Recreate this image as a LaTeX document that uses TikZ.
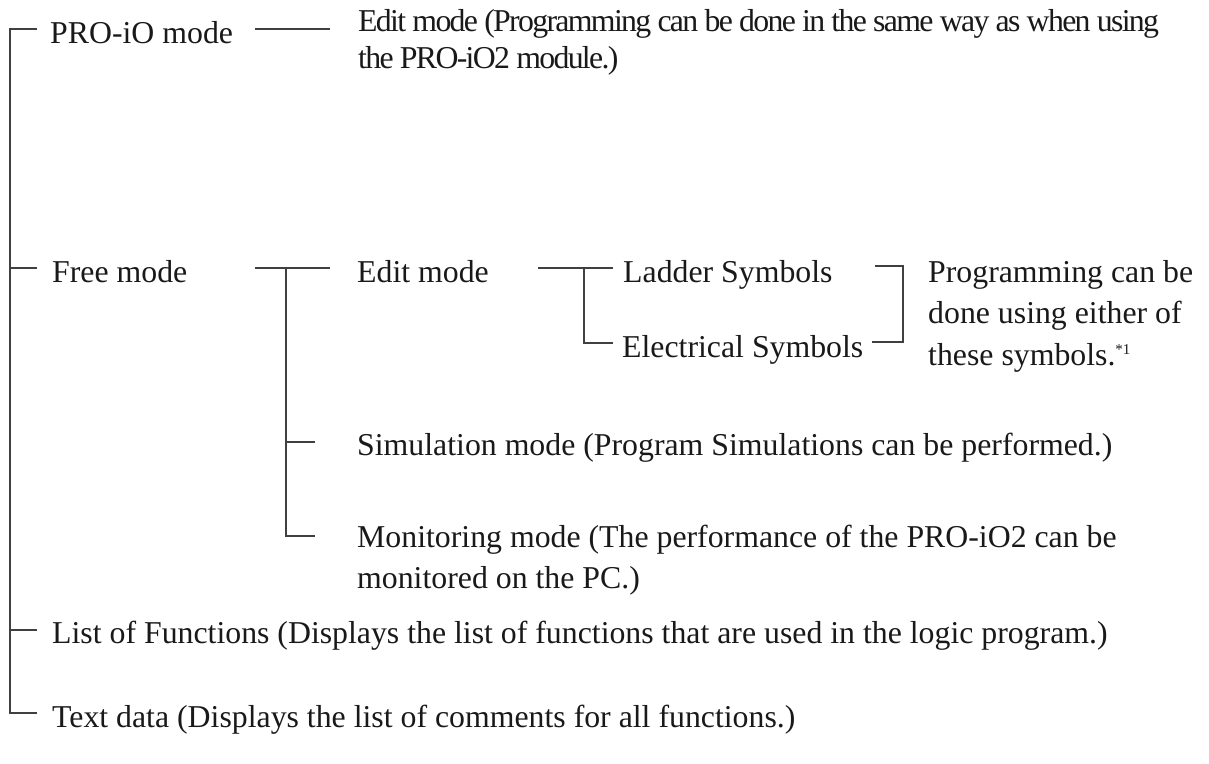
\documentclass[tikz,border=0pt]{standalone}
\usepackage{fontspec}
\setmainfont{Liberation Serif}
\newfontfamily\condfont[LetterSpace=-5.3]{Liberation Serif}
\begin{document}
\begin{tikzpicture}[x=1pt,y=-1pt,
  txt/.style={anchor=base west, inner sep=0pt, font=\fontsize{31.8}{38}\selectfont, text=black!90},
  ctxt/.style={txt, font=\condfont\fontsize{31.8}{38}\selectfont},
  ln/.style={line width=1.2pt, draw=black!75}]
\useasboundingbox (0,0) rectangle (1209,763);
% texts
\node[txt] (pro) at (50,43) {PRO-iO mode};
\node[ctxt] (edita) at (358,31) {Edit mode (Programming can be done in the same way as when using};
\node[ctxt] (editb) at (358,68) {the PRO-iO2 module.)};
\node[txt] (free) at (52,282) {Free mode};
\node[txt] (editm) at (357,282) {Edit mode};
\node[txt] (ladder) at (623,282) {Ladder Symbols};
\node[txt] (elec) at (622,357) {Electrical Symbols};
\node[txt] (proga) at (928,282) {Programming can be};
\node[txt] (progb) at (928,323) {done using either of};
\node[txt] (progc) at (928,365) {these symbols.\raisebox{11pt}{\fontsize{15}{15}\selectfont *1}};
\node[txt] (sim) at (357,455) {Simulation mode (Program Simulations can be performed.)};
\node[txt] (mona) at (357,547) {Monitoring mode (The performance of the PRO-iO2 can be};
\node[txt] (monb) at (357,588) {monitored on the PC.)};
\node[txt] (list) at (52,643) {List of Functions (Displays the list of functions that are used in the logic program.)};
\node[txt] (textd) at (52,727) {Text data (Displays the list of comments for all functions.)};
% junction coordinates
\coordinate (r0) at (10,29);
\coordinate (r1) at (10,713);
\coordinate (t0) at (37,29);
\coordinate (t3) at (37,713);
\coordinate (fA) at (10,268);
\coordinate (fB) at (37,268);
\coordinate (lA) at (10,630);
\coordinate (lB) at (37,630);
\coordinate (pA) at (255,29);
\coordinate (pB) at (330,29);
\coordinate (qA) at (255,268);
\coordinate (qB) at (330,268);
\coordinate (qJ) at (286,268);
\coordinate (qM) at (286,536);
\coordinate (qMe) at (315,536);
\coordinate (qS) at (286,442);
\coordinate (qSe) at (315,442);
\coordinate (eA) at (538,268);
\coordinate (eB) at (613,268);
\coordinate (eJ) at (584,268);
\coordinate (eL) at (584,343);
\coordinate (eLe) at (613,343);
\coordinate (bA) at (875,266);
\coordinate (bT) at (903,266);
\coordinate (bB) at (903,342);
\coordinate (bC) at (872,342);
% lines
\draw[ln] (t0) -- (r0) -- (r1) -- (t3);
\draw[ln] (fA) -- (fB);
\draw[ln] (lA) -- (lB);
\draw[ln] (pA) -- (pB);
\draw[ln] (qA) -- (qB);
\draw[ln] (qJ) -- (qM) -- (qMe);
\draw[ln] (qS) -- (qSe);
\draw[ln] (eA) -- (eB);
\draw[ln] (eJ) -- (eL) -- (eLe);
\draw[ln] (bA) -- (bT) -- (bB) -- (bC);
\end{tikzpicture}
\end{document}
